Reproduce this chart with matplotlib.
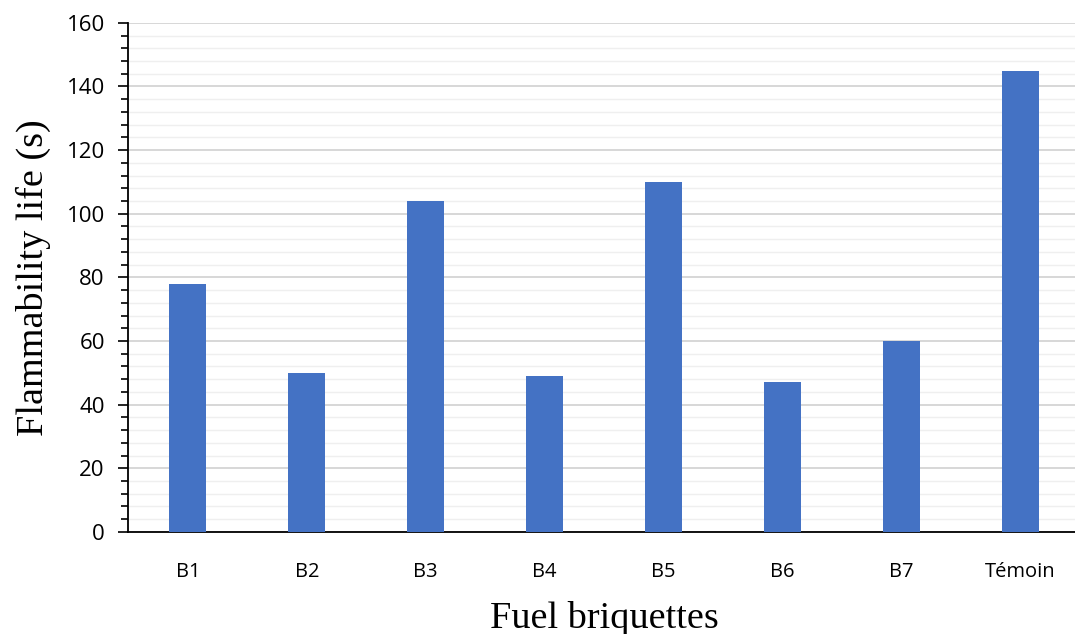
import matplotlib.pyplot as plt
from matplotlib.ticker import MultipleLocator

# flammability life per briquette
briquettes = ['B1', 'B2', 'B3', 'B4', 'B5', 'B6', 'B7', 'Témoin']
flam_life = [78, 50, 104, 49, 110, 47, 60, 145]

fig = plt.figure(figsize=(10.75, 6.34), dpi=100)
ax = fig.add_axes([0.1195, 0.161, 0.885, 0.803])

x = range(len(briquettes))
ax.bar(x, flam_life, width=0.31, color='#4472C4', zorder=3)

ax.set_xlim(-0.5, len(briquettes) - 0.5)
ax.set_ylim(0, 160)
ax.yaxis.set_major_locator(MultipleLocator(20))
ax.yaxis.set_minor_locator(MultipleLocator(4))
ax.grid(axis='y', which='major', color='#d4d4d4', linewidth=1.3, zorder=0)
ax.grid(axis='y', which='minor', color='#efefef', linewidth=1.0, zorder=0)

ax.set_xticks(list(x))
ax.set_xticklabels(briquettes, fontfamily='Open Sans', fontsize=14.5)
ax.tick_params(axis='x', length=0, pad=22)
ax.tick_params(axis='y', which='major', length=7, width=1.2, labelsize=16, pad=10)
ax.tick_params(axis='y', which='minor', length=5, width=1.2)
for lab in ax.get_yticklabels():
    lab.set_fontfamily('Open Sans')

for s in ['top', 'right']:
    ax.spines[s].set_visible(False)
ax.spines['left'].set_linewidth(1.3)
ax.spines['bottom'].set_linewidth(1.3)

ax.set_xlabel('Fuel briquettes', fontfamily='Liberation Serif', fontsize=27.5, labelpad=13)
ax.set_ylabel('Flammability life (s)', fontfamily='Liberation Serif', fontsize=27.5, labelpad=11)

plt.savefig('out.png')
